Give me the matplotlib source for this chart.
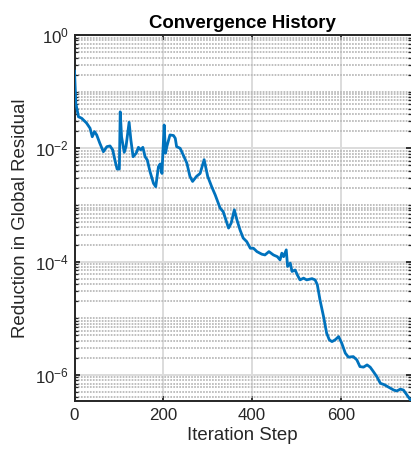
import matplotlib
matplotlib.use("Agg")
import matplotlib.pyplot as plt
from matplotlib.ticker import LogLocator, LogFormatterMathtext, NullFormatter

# Convergence record: iteration index and residual reduction
steps = [
    0, 3, 9, 16, 27, 35, 40, 45, 50, 57,
    65, 73, 80, 86, 91, 96, 101, 103, 106, 112,
    116, 123, 127, 132, 139, 144, 149, 154, 159, 164,
    170, 178, 183, 189, 193, 197, 202, 205, 208, 215,
    223, 227, 230, 238, 245, 253, 260, 266, 275, 283,
    292, 300, 309, 317, 328, 335, 347, 353, 360, 366,
    373, 380, 388, 396, 403, 411, 422, 429, 438, 448,
    457, 463, 467, 471, 477, 480, 486, 490, 497, 502,
    508, 516, 523, 535, 542, 547, 553, 561, 568, 574,
    580, 587, 595, 602, 610, 617, 628, 636, 643, 651,
    659, 666, 673, 681, 689, 698, 707, 719, 726, 734,
    741, 749, 758,
]
residual = [
    0.23, 0.062, 0.036, 0.034, 0.028, 0.0226, 0.016, 0.0197, 0.0172, 0.0123,
    0.0087, 0.0107, 0.011, 0.0094, 0.0062, 0.0043, 0.0043, 0.044, 0.016, 0.0085,
    0.0107, 0.0288, 0.014, 0.0071, 0.0082, 0.0104, 0.0094, 0.0104, 0.0071, 0.0062,
    0.0039, 0.0024, 0.0021, 0.0047, 0.0053, 0.0036, 0.0258, 0.0082, 0.0107, 0.0172,
    0.0168, 0.015, 0.0107, 0.0100, 0.0076, 0.0055, 0.0032, 0.0026, 0.0032, 0.0036,
    0.0063, 0.0032, 0.0021, 0.0015, 0.00088, 0.00076, 0.00039, 0.00048, 0.00082, 0.00054,
    0.00036, 0.00026, 0.000225, 0.000172, 0.000172, 0.00015, 0.000135, 0.000131, 0.00015, 0.000131,
    0.000122, 0.000107, 0.000141, 0.000122, 0.000161, 8.2e-5, 9.4e-5, 6.7e-5, 7.1e-5, 5.8e-5,
    4.75e-5, 5.1e-5, 4.75e-5, 5.0e-5, 4.75e-5, 3.9e-5, 2.1e-5, 1.07e-5, 5.45e-6, 4.15e-6,
    3.87e-6, 4.15e-6, 4.74e-6, 3.63e-6, 2.42e-6, 2.06e-6, 2.1e-6, 1.84e-6, 1.4e-6, 1.37e-6,
    1.5e-6, 1.37e-6, 1.15e-6, 9.3e-7, 7.1e-7, 6.7e-7, 6.1e-7, 5.4e-7, 5.2e-7, 5.6e-7,
    5.4e-7, 4.4e-7, 3.5e-7,
]

x_ticks = [0, 200, 400, 600]
y_ticks = [1e-6, 1e-4, 1e-2, 1e0]

TEXT = "#262626"
LINE = "#0072BD"

plt.rcParams["font.family"] = ["Liberation Sans", "DejaVu Sans"]
plt.rcParams["mathtext.fontset"] = "custom"
plt.rcParams["mathtext.rm"] = "Liberation Sans"
plt.rcParams["mathtext.it"] = "Liberation Sans:italic"
plt.rcParams["mathtext.bf"] = "Liberation Sans:bold"

W, H = 411, 455
fig = plt.figure(figsize=(W / 100, H / 100), dpi=100)
left, right, top, bottom = 74.5, 411.0, 35.0, 400.7
ax = fig.add_axes([left / W, 1 - bottom / H, (right - left) / W, (bottom - top) / H])

ax.plot(steps, residual, color=LINE, lw=2.0, solid_joinstyle="round", zorder=3)

ax.set_yscale("log")
ax.set_xlim(0, steps[-1])
ax.set_ylim(min(residual), 1e0)

ax.set_xticks(x_ticks)
ax.xaxis.set_minor_locator(plt.NullLocator())
ax.yaxis.set_major_locator(plt.FixedLocator(y_ticks))
ax.yaxis.set_major_formatter(LogFormatterMathtext())
ax.yaxis.set_minor_locator(LogLocator(base=10, subs=range(1, 10), numticks=50))
ax.yaxis.set_minor_formatter(NullFormatter())

# grid: solid majors, dotted log minors
ax.grid(which="major", axis="both", color="#dcdcdc", lw=1.4, ls="-", zorder=0)
ax.grid(which="minor", axis="y", color="#bababa", lw=1.3, ls=(0, (0.95, 0.7)), zorder=0)
ax.set_axisbelow(True)

for side in ("left", "bottom", "top"):
    ax.spines[side].set_color(TEXT)
    ax.spines[side].set_linewidth(1.4)
ax.spines["right"].set_visible(False)

ax.tick_params(which="major", direction="in", length=3.3, width=1.3, colors=TEXT,
               labelsize=12.2, top=True, right=True, pad=5)
ax.tick_params(which="minor", direction="in", length=2.2, width=0.9, colors=TEXT,
               top=False, right=True)
ax.tick_params(axis="y", which="major", pad=4)

ax.set_xlabel("Iteration Step", fontsize=13.4, color=TEXT, labelpad=3)
ax.set_ylabel("Reduction in Global Residual", fontsize=13.4, color=TEXT, labelpad=4)
ax.set_title("Convergence History", fontsize=13.4, fontweight="bold", color="black", pad=5)

fig.savefig("out.png", dpi=100)
